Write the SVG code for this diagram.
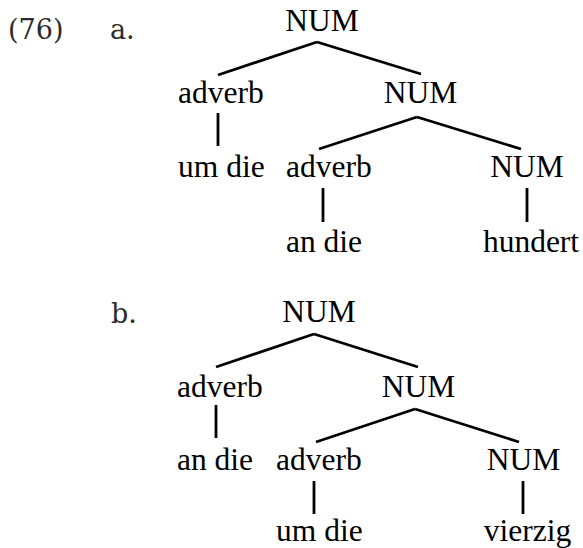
<svg xmlns="http://www.w3.org/2000/svg" width="583" height="548" viewBox="0 0 583 548">
<style>
.lab{font-family:"DejaVu Serif",serif;font-size:27px;fill:#2b2b2b}
.t{font-family:"Liberation Serif","Times New Roman",serif;font-size:31.5px;fill:#000}
.e line{stroke:#000;stroke-width:2.8;stroke-linecap:butt}
</style>
<rect width="583" height="548" fill="#fff"/>
<text class="lab" x="8" y="39">(76)</text>
<text class="lab" x="110" y="39">a.</text>
<text class="lab" x="111" y="323">b.</text>
<g id="edges" class="e">
<line x1="317" y1="42" x2="218" y2="75"/>
<line x1="317" y1="42" x2="421" y2="74"/>
<line x1="218" y1="113" x2="218" y2="146"/>
<line x1="417" y1="117" x2="319" y2="149"/>
<line x1="417" y1="117" x2="521" y2="149"/>
<line x1="323" y1="188" x2="323" y2="222"/>
<line x1="527" y1="188" x2="527" y2="222"/>
<line x1="314" y1="334" x2="216" y2="367"/>
<line x1="314" y1="334" x2="418" y2="367"/>
<line x1="216" y1="405" x2="216" y2="438"/>
<line x1="415" y1="409" x2="316" y2="442"/>
<line x1="415" y1="409" x2="519" y2="442"/>
<line x1="314" y1="481" x2="314" y2="514"/>
<line x1="523" y1="481" x2="523" y2="514"/>
</g>
<g id="a-num0"><text class="t" x="322" y="31" text-anchor="middle">NUM</text></g>
<g id="a-adv1"><text class="t" x="178" y="103">adverb</text></g>
<g id="a-num1"><text class="t" x="420.5" y="103" text-anchor="middle">NUM</text></g>
<g id="a-umdie"><text class="t" x="178" y="177">um die</text></g>
<g id="a-adv2"><text class="t" x="286" y="177">adverb</text></g>
<g id="a-num2"><text class="t" x="527" y="177" text-anchor="middle">NUM</text></g>
<g id="a-andie"><text class="t" x="286" y="252">an die</text></g>
<g id="a-hundert"><text class="t" x="531" y="252" text-anchor="middle">hundert</text></g>
<g id="b-num0"><text class="t" x="319" y="322" text-anchor="middle">NUM</text></g>
<g id="b-adv1"><text class="t" x="177" y="397">adverb</text></g>
<g id="b-num1"><text class="t" x="418.5" y="397" text-anchor="middle">NUM</text></g>
<g id="b-andie"><text class="t" x="177" y="470">an die</text></g>
<g id="b-adv2"><text class="t" x="276" y="470">adverb</text></g>
<g id="b-num2"><text class="t" x="523.5" y="470" text-anchor="middle">NUM</text></g>
<g id="b-umdie"><text class="t" x="276" y="541">um die</text></g>
<g id="b-vierzig"><text class="t" x="527.5" y="541" text-anchor="middle">vierzig</text></g>
</svg>
